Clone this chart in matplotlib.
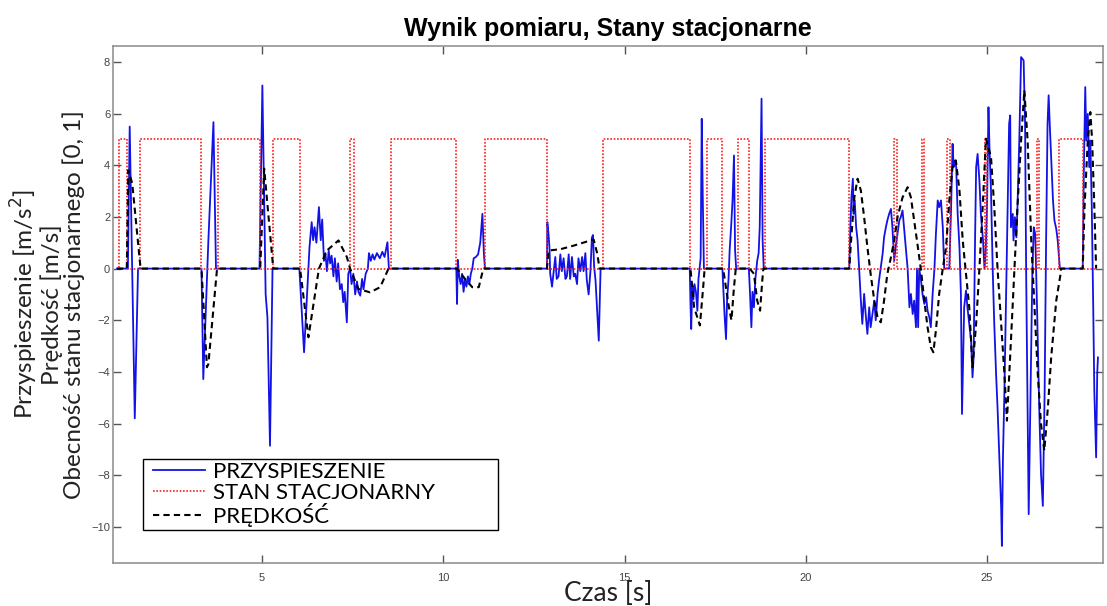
import matplotlib
matplotlib.use("Agg")
import matplotlib.pyplot as plt
from matplotlib.patches import Rectangle

# acceleration [m/s^2]
acc_t = [1.00, 1.30, 1.35, 1.49, 1.58,
         3.33, 3.38, 3.52, 3.66, 3.73,
         4.93, 5.01, 5.10, 5.15, 5.22, 5.29,
         6.03, 6.16, 6.31, 6.37, 6.41, 6.45, 6.50, 6.57, 6.62, 6.66, 6.71, 6.75, 6.79, 6.84, 6.88,
         6.92, 6.97, 7.01, 7.06, 7.10, 7.15, 7.20, 7.24, 7.28, 7.34, 7.38, 7.43,
         7.47, 7.52, 7.57, 7.62, 7.66, 7.71, 7.76, 7.80, 7.86, 7.92, 7.95, 8.00, 8.05, 8.10, 8.17,
         8.25, 8.32, 8.38, 8.46, 8.50,
         10.36, 10.38, 10.40, 10.44, 10.48, 10.52, 10.56, 10.60, 10.64, 10.68, 10.72, 10.76, 10.80,
         10.84, 10.90, 10.96, 11.02, 11.08, 11.12, 11.15,
         12.86, 12.87, 12.90, 12.93, 12.95, 13.00, 13.04, 13.09, 13.13, 13.18, 13.23, 13.27, 13.32,
         13.37, 13.41, 13.46, 13.50, 13.55, 13.60, 13.64, 13.69, 13.73, 13.78, 13.83, 13.87, 13.92,
         13.96, 14.01, 14.06, 14.10, 14.13, 14.16, 14.20, 14.24, 14.29, 14.34,
         16.80, 16.82, 16.84, 16.87, 16.90, 16.93, 16.97, 17.01, 17.04, 17.07, 17.10, 17.13, 17.16, 17.19,
         17.70, 17.73, 17.76, 17.80, 17.83, 17.87, 17.90, 17.94, 17.98, 18.02, 18.05, 18.08,
         18.43, 18.46, 18.50, 18.53, 18.57, 18.61, 18.66, 18.70, 18.73, 18.78, 18.81, 18.84,
         21.20, 21.23, 21.26, 21.30, 21.32, 21.35, 21.39, 21.43, 21.47, 21.52, 21.56, 21.61, 21.66,
         21.70, 21.75, 21.79, 21.84, 21.89, 21.93, 21.98, 22.02, 22.07, 22.12, 22.16, 22.21, 22.25,
         22.30, 22.35, 22.39, 22.44, 22.48, 22.53, 22.58, 22.62, 22.67, 22.71, 22.76, 22.81, 22.86,
         22.90, 22.95, 22.99, 23.04, 23.07, 23.10, 23.13, 23.18, 23.22, 23.27, 23.32, 23.36, 23.41,
         23.45, 23.50, 23.55, 23.59, 23.64, 23.68, 23.73, 23.78, 23.82, 23.96, 24.01, 24.05, 24.08,
         24.12, 24.15, 24.19, 24.24, 24.28, 24.31, 24.37, 24.42, 24.46, 24.51, 24.56, 24.60, 24.63,
         24.67, 24.70, 24.74, 24.79, 24.83, 24.89, 24.93, 24.96, 25.00, 25.04, 25.07, 25.11, 25.16,
         25.20, 25.25, 25.29, 25.34, 25.39, 25.41, 25.44, 25.48, 25.52, 25.57, 25.61, 25.64, 25.66,
         25.71, 25.73, 25.77, 25.81, 25.84, 25.89, 25.94, 26.01, 26.05, 26.08, 26.12, 26.15, 26.18,
         26.22, 26.25, 26.29, 26.33, 26.38, 26.44, 26.49, 26.54, 26.59, 26.63, 26.67, 26.70, 26.73,
         26.77, 26.82, 26.86, 26.91, 26.95, 27.01, 27.64, 27.67, 27.71, 27.74, 27.78, 27.82, 27.85,
         27.89, 27.93, 27.96, 28.01, 28.04, 28.06]
acc_v = [0, 0, 5.5, -5.8, 0,
         0, -4.28, 1.08, 5.67, 0,
         0, 7.09, -0.98, -1.9, -6.86, 0,
         0, -3.24, 0.83, 1.8, 1.1, 1.6, 1.0, 2.38, 1.1, 1.9, 0.3, 0.6, -0.1, 0.7, 0.2,
         0.5, -0.3, 0.4, -0.5, 0.2, -0.8, -0.6, -1.3, -0.9, -2.08, -0.2, 0,
         -0.6, -0.2, -1.0, -0.5, -0.9, -1.05, -0.4, -0.8, -0.2, 0, 0.6, 0.3, 0.55, 0.35, 0.6,
         0.4, 0.65, 0.45, 1.02, 0,
         0, -1.37, 0.34, -0.3, -0.6, -0.2, -0.9, -0.4, -0.7, -0.3, -0.6, -0.2, 0.0,
         0.4, 0.45, 0.55, 1.0, 2.12, 0.6, 0,
         0, 1.8, 1.4, 0.8, -0.2, -0.7, -0.2, 0.45, -0.4, -0.3, 0.55, -0.1, 0.4,
         -0.4, -0.3, 0.55, -0.4, 0.45, -0.3, -0.2, -0.6, 0.4, -0.1, 0.45, -0.1, 0.6,
         -0.45, -1.0, -0.1, 1.2, 1.3, 0.1, -0.45, -1.5, -2.79, 0,
         0, -1.4, -2.34, -0.65, -1.2, -0.6, -0.9, -1.63, -0.4, 0, 0.4, 5.8, 2.64, 0,
         0, -0.9, -1.8, -2.73, -1.2, -0.4, 0.7, 1.6, 2.64, 4.38, 0.7, 0,
         0, -0.9, -2.27, -0.9, -1.5, -0.4, 0.3, 0.6, 1.6, 6.58, 1.1, 0,
         0, 1.6, 2.76, 3.48, 2.12, 2.64, 1.6, 1.09, 0.05, -1.24, -2.14, -0.98, -1.89,
         -2.53, -1.5, -2.27, -1.76, -1.24, -2.0, -0.98, -0.47, 0.05, 0.57, 1.21, 1.6, 1.86,
         2.12, 2.31, 1.6, 0.31, 0.83, 1.34, 1.86, 1.99, 2.25, 1.6, 0.83, 0, -1.5,
         -0.98, -1.76, -1.24, -2.27, 0, -2.27, 0, -0.47, -0.98, -1.37, -1.11, -1.63, -1.89,
         -2.27, -0.98, 0, 1.34, 2.64, 2.38, 2.64, 1.6, 0, 0, 2.38, 4.83, 3.93,
         4.19, 3.93, 2.12, 0.83, -0.98, -5.63, -1.5, -0.85, -1.5, -2.14, -2.79, -4.21, -3.44,
         1.09, 3.93, 4.44, 3.41, 2.12, 1.09, 0, 0.57, 2.38, 6.25, 4.57, 3.02, -0.2,
         -2.14, -4.08, -5.37, -7.31, -9.25, -10.74, -7.31, -4.73, -1.5, 2.38, 5.61, 5.93, 1.6,
         2.12, 1.09, 1.99, 1.21, 2.38, 4.96, 8.19, 8.06, 5.61, -0.2, -5.37, -9.51, -6.67,
         -2.79, -0.2, 1.6, 1.34, -1.5, -5.37, -7.96, -9.19, -4.73, 1.09, 5.61, 6.71, 5.61,
         4.32, 2.64, 1.86, 1.54, 1.09, 0, 0, 3.67, 7.03, 4.96, 5.99, 3.93, 4.96,
         2.38, -1.5, -4.73, -7.31, -4.08, -3.44]

# stationary state flag (0 / 5 on the plot)
state_t = [1.00, 1.05, 1.27, 1.63, 3.31, 3.79, 4.94, 5.31, 6.05, 7.43, 7.54, 8.56,
           10.36, 11.16, 12.86, 14.40, 16.81, 17.28, 17.70, 18.13, 18.43, 18.87, 21.20,
           22.44, 22.51, 23.20, 23.25, 23.90, 23.99, 24.95, 25.00, 26.39, 26.43, 26.98,
           27.64, 27.98]
state_v = [0, 5, 0, 5, 0, 5, 0, 5, 0, 5, 0, 5,
           0, 5, 0, 5, 0, 5, 0, 5, 0, 5, 0,
           5, 0, 5, 0, 5, 0, 5, 0, 5, 0, 5,
           0, 0]

# velocity [m/s]
vel_t = [1.00, 1.27, 1.31, 1.42, 1.65,
         3.33, 3.48, 3.52, 3.76,
         4.95, 5.06, 5.31,
         6.05, 6.28, 6.57, 6.79, 7.11, 7.34, 7.43, 7.66, 7.98, 8.26, 8.49,
         10.38, 10.60, 10.80, 10.98, 11.07, 11.12,
         12.86, 12.91, 13.23, 13.60, 14.06, 14.15, 14.25, 14.31,
         16.82, 16.92, 17.08, 17.17, 17.21,
         17.72, 17.88, 17.95, 18.02, 18.07,
         18.45, 18.57, 18.66, 18.74, 18.80, 18.83,
         21.20, 21.25, 21.34, 21.43, 21.52, 21.61, 21.70, 21.79, 21.89, 21.98, 22.07, 22.16,
         22.25, 22.35, 22.44, 22.53, 22.67, 22.81, 22.90, 22.99, 23.08, 23.18, 23.27, 23.36,
         23.45, 23.52, 23.59, 23.68, 23.78, 23.87, 23.96, 24.05, 24.14, 24.24, 24.33, 24.42,
         24.51, 24.60, 24.70, 24.79, 24.88, 24.97, 25.11, 25.20, 25.29, 25.39, 25.48, 25.55,
         25.66, 25.75, 25.84, 25.94, 26.03, 26.12, 26.22, 26.31, 26.40, 26.49, 26.58, 26.68,
         26.77, 26.91, 27.03, 27.04, 27.64, 27.69, 27.78, 27.85, 27.90, 27.96, 28.01]
vel_v = [0, 0, 3.8, 3.3, 0,
         0, -3.82, -3.7, 0,
         0, 3.87, 0,
         0, -2.66, 0, 0.7, 1.09, 0.45, 0, -0.79, -0.92, -0.72, 0,
         0, -0.4, -0.72, -0.72, -0.2, 0,
         0, 0.7, 0.75, 0.89, 1.09, 1.12, 0.57, 0,
         0, -1.5, -2.2, -0.72, 0,
         0, -1.5, -2.0, -0.72, 0,
         0, -0.2, -1.24, -1.63, -0.47, 0,
         0, 1.09, 2.76, 3.48, 3.02, 1.99, 0.83, -0.21, -1.24, -1.89, -2.08, -1.24,
         -0.21, 0.44, 1.09, 1.99, 2.76, 3.15, 2.76, 1.86, 0.96, -0.08, -1.24, -2.27,
         -3.05, -3.24, -2.4, -0.98, 0, 0.83, 2.64, 3.93, 4.19, 3.02, 1.09, -0.2,
         -1.5, -3.82, -2.14, 0, 2.38, 5.03, 4.32, 2.38, 0, -2.14, -4.08, -5.89,
         -2.79, -0.2, 2.38, 4.96, 6.9, 4.96, 1.09, -1.5, -4.08, -6.02, -7.05, -5.37,
         -3.44, -1.24, -0.2, 0, 0, 2.38, 4.96, 6.06, 4.96, 2.38, 0]

fig = plt.figure(figsize=(11.07, 6.06), dpi=100)
ax = fig.add_axes([0.1021, 0.0710, 0.8943, 0.8531])

ax.plot(acc_t, acc_v, color='#1212e6', lw=1.3, label='PRZYSPIESZENIE')
ax.plot(state_t, state_v, color='#ff2020', lw=1.2, linestyle=(0, (1, 1)),
        drawstyle='steps-post', label='STAN STACJONARNY')
ax.plot(vel_t, vel_v, color='black', lw=1.5, linestyle=(0, (3, 2)), label='PRĘDKOŚĆ')

ax.set_xlim(0.89, 28.2)
ax.set_ylim(-11.4, 8.62)
ax.set_xticks([5, 10, 15, 20, 25])
ax.set_yticks([-10, -8, -6, -4, -2, 0, 2, 4, 6, 8])
ax.tick_params(direction='in', top=True, right=True, length=6, width=1,
               color='#555555', labelcolor='#444444', labelsize=8)
ax.tick_params(axis='x', pad=7)
ax.tick_params(axis='y', pad=2)
for lab in ax.get_xticklabels() + ax.get_yticklabels():
    lab.set_family('Liberation Sans')
for sp in ax.spines.values():
    sp.set_color('#8a8a8a')
    sp.set_linewidth(1.1)

ax.set_title('Wynik pomiaru, Stany stacjonarne', fontsize=18, fontweight='bold',
             family='Liberation Sans', pad=7)
ax.set_xlabel('Czas [s]', fontsize=19, family='Lato', color='#222222')
ax.xaxis.set_label_coords(0.5, -0.035)
ax.set_ylabel('Przyspieszenie [m/s$^2$]\nPrędkość [m/s]\nObecność stanu stacjonarnego [0, 1]',
              fontsize=17.5, family='Lato', color='#222222', linespacing=1.0)
ax.yaxis.set_label_coords(-0.028, 0.5)

# legend box drawn separately so the entries can sit with a wider left margin
ax.add_patch(Rectangle((0.03, 0.064), 0.359, 0.137, transform=ax.transAxes,
                       facecolor='white', edgecolor='black', lw=1.0, zorder=4))
leg = ax.legend(loc='upper left', bbox_to_anchor=(0.0404, 0.195), borderaxespad=0,
                frameon=False, borderpad=0, labelspacing=0.02, handlelength=2.35,
                handletextpad=0.35, prop={'family': 'Lato', 'size': 16})
leg.set_zorder(5)

fig.savefig('out.png', dpi=100)
